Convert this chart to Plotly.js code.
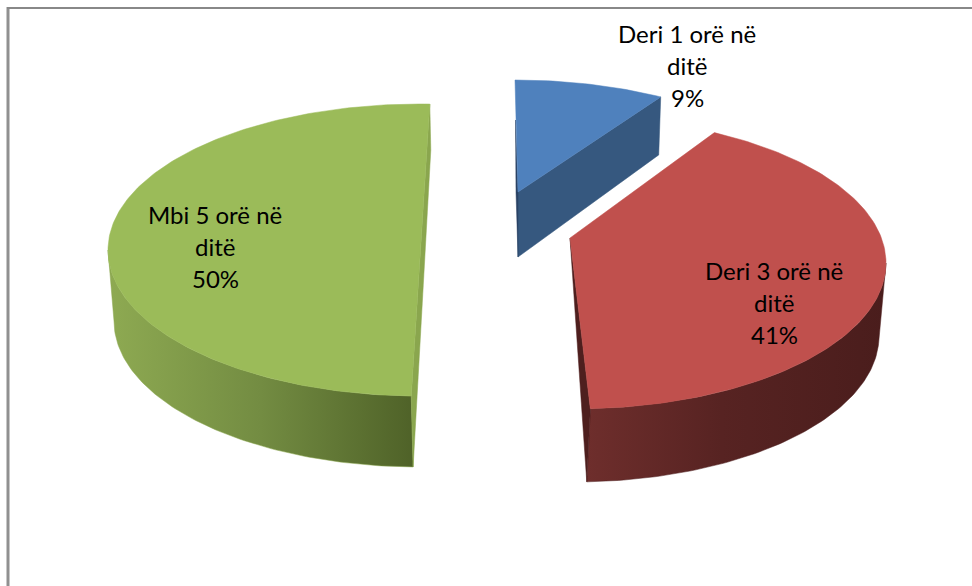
<!DOCTYPE html>
<html><head><meta charset="utf-8">
<script src="https://cdn.plot.ly/plotly-3.0.1.min.js"></script>
<style>html,body{margin:0;padding:0;background:#fff}#c{width:972px;height:586px}</style></head>
<body><div id="c"></div>
<script>
// Data
const categories = ['Deri 1 orë në ditë', 'Deri 3 orë në ditë', 'Mbi 5 orë në ditë'];
const labelLines = [['Deri 1 orë në','ditë','9%'],['Deri 3 orë në','ditë','41%'],['Mbi 5 orë në','ditë','50%']];
const shares = [9, 41, 50];

// Styles and drawing geometry (separate from the data)
const topColors = ['#4f81bd', '#c0504d', '#9bbb59'];
const sideColors = ['#36587f', '#4e1f1e', '#8aa64e'];
const ringCentres = [[515,226],[574,263],[420,250]];
const apexes = [[518,192],[570,238],[420.5,250]];
const rotStart = [0,-1.1,1.6];
const rotEnd = [0,-3,1.8];
const labelCentres = [687,774,215];
const labelTops = [33,270,214];
const RX=312, RY=146, LOWER_RX=305, DEPTH=72, LINE=32;

const rad = d => d*Math.PI/180;
const warp = d => d - 8.5*Math.sin(rad(d));
function arc(cx,cy,rx,ry,a,b){
  const xs=[],ys=[]; const n=Math.max(8,Math.ceil(Math.abs(b-a)));
  for(let i=0;i<=n;i++){const t=rad(a+(b-a)*i/n); xs.push(cx+rx*Math.sin(t)); ys.push(cy-ry*Math.cos(t));}
  return [xs,ys];
}
function poly(xs,ys,color,name,extra){
  return Object.assign({type:'scatter',mode:'lines',x:xs.concat(xs[0]),y:ys.concat(ys[0]),fill:'toself',
    fillcolor:color,line:{width:0.5,color:color},name:name,hoverinfo:'name',showlegend:false},extra||{});
}
let cum=0;
const slices=shares.map((v,i)=>{const s=cum/100*360; cum+=v; const e=cum/100*360;
  return {a:warp(s)+rotStart[i],b:warp(e)+rotEnd[i]};});

const traces=[];
// Blue: cut face
{
  const i=0,[cx,cy]=ringCentres[i],[ax,ay]=apexes[i],s=slices[i];
  const [rx,ry]=arc(cx,cy,RX,RY,s.a,s.b);
  const ex=rx[rx.length-1],ey=ry[ry.length-1];
  traces.push(poly([ax,ex,ex-2,ax],[ay,ey,ey+58,ay+65],sideColors[i],categories[i]));
  traces.push(poly([cx+0.5,ax,ax,ax-2],[cy-106,ay,ay+65,ay],'#2a4365',categories[i]));
  traces.push(poly(rx.concat(ax),ry.concat(ay),topColors[i],categories[i]));
}
// Red
{
  const i=1,[cx,cy]=ringCentres[i],[ax,ay]=apexes[i],s=slices[i];
  const [ux,uy]=arc(cx,cy,RX,RY,90,s.b);
  const [lx,ly]=arc(cx,cy+DEPTH+1,LOWER_RX,RY,90,s.b+0.6);
  traces.push(poly(ux.concat(lx.slice().reverse()),uy.concat(ly.slice().reverse()),sideColors[i],categories[i],
    {fillgradient:{type:'horizontal',colorscale:[[0,'#6e2e2c'],[0.45,'#572322'],[1,'#4a1d1c']]}}));
  traces.push(poly([ax,ux[ux.length-1],lx[lx.length-1]],[ay,uy[uy.length-1],ly[ly.length-1]],sideColors[i],categories[i]));
  const [rx,ry]=arc(cx,cy,RX,RY,s.a,s.b);
  traces.push(poly(rx.concat(ax),ry.concat(ay),topColors[i],categories[i]));
}
// Green
{
  const i=2,[cx,cy]=ringCentres[i],[ax,ay]=apexes[i],s=slices[i];
  const [ux,uy]=arc(cx,cy,RX,RY,s.a,270);
  const [lx,ly]=arc(cx-1,cy+DEPTH-1,LOWER_RX,RY,s.a-0.5,270);
  traces.push(poly(ux.concat(lx.slice().reverse()),uy.concat(ly.slice().reverse()),sideColors[i],categories[i],
    {fillgradient:{type:'horizontal',colorscale:[[0,'#8eaa52'],[0.5,'#738c42'],[1,'#4f6228']]}}));
  const [rx,ry]=arc(cx,cy,RX,RY,s.a,s.b);
  const ex=rx[rx.length-1],ey=ry[ry.length-1];
  traces.push(poly([ex,ex+1,lx[0],rx[0]],[ey,ey+46,ly[0],ry[0]],sideColors[i],categories[i]));
  traces.push(poly(rx.concat(ax),ry.concat(ay),topColors[i],categories[i]));
}

const annotations=[];
labelLines.forEach((lines,i)=>lines.forEach((t,k)=>annotations.push({
  x:labelCentres[i],y:labelTops[i]+k*LINE,xref:'x',yref:'y',text:t,showarrow:false,
  xanchor:'center',yanchor:'middle',font:{family:'Lato, Carlito, sans-serif',size:24,color:'#000'}})));

const frame=[
  {type:'line',xref:'x',yref:'y',x0:8,x1:8,y0:7,y1:586,line:{color:'#909090',width:3}},
  {type:'line',xref:'x',yref:'y',x0:7,x1:972,y0:8,y1:8,line:{color:'#888888',width:2}}
];

Plotly.newPlot('c',traces,{
  width:972,height:586,margin:{l:0,r:0,t:0,b:0},paper_bgcolor:'#fff',plot_bgcolor:'#fff',showlegend:false,
  xaxis:{range:[0,972],visible:false,fixedrange:true},
  yaxis:{range:[586,0],visible:false,fixedrange:true},
  annotations:annotations,shapes:frame
},{displayModeBar:false,staticPlot:true});
</script></body></html>
